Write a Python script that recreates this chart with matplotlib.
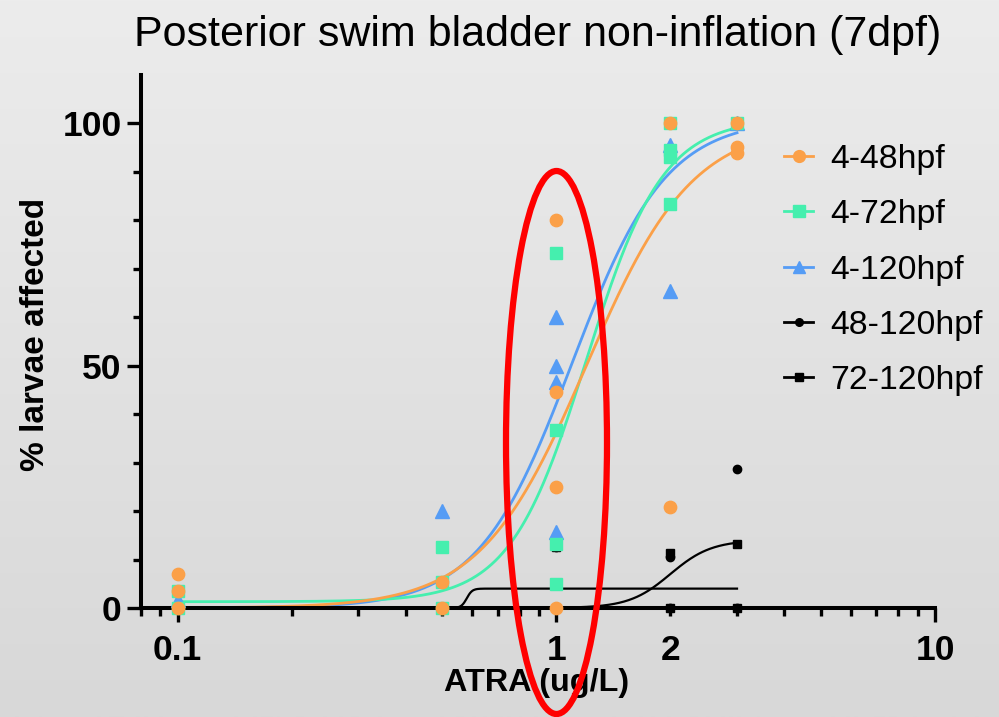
import numpy as np
import matplotlib
matplotlib.use('Agg')
import matplotlib.pyplot as plt
from matplotlib.lines import Line2D
from matplotlib.patches import Ellipse
from matplotlib.ticker import FixedLocator, FixedFormatter, NullFormatter

plt.rcParams['font.family'] = ['Liberation Sans', 'DejaVu Sans']

title = "Posterior swim bladder non-inflation (7dpf)"
xlabel = "ATRA (ug/L)"
ylabel = "% larvae affected"
series_names = ["4-48hpf", "4-72hpf", "4-120hpf", "48-120hpf", "72-120hpf"]

# raw data points
x_4_48 = [0.1, 0.1, 0.1, 0.5, 0.5, 1, 1, 1, 1, 2, 2, 3, 3, 3]
y_4_48 = [7.0, 3.5, 0, 5.3, 0, 80, 44.5, 25, 0, 100, 20.8, 100, 95.1, 93.8]
x_4_72 = [0.1, 0.1, 0.5, 0.5, 0.5, 1, 1, 1, 1, 2, 2, 2, 2, 3]
y_4_72 = [3.5, 0, 12.5, 5.3, 0, 73.3, 36.8, 13.3, 5, 100, 94.5, 93, 83.3, 100]
x_4_120 = [0.1, 0.5, 1, 1, 1, 1, 2, 2, 3]
y_4_120 = [1.7, 20, 60, 50, 46.7, 15.6, 95.5, 65.4, 100]
x_48_120 = [0.1, 0.5, 1, 2, 2, 3, 3]
y_48_120 = [0, 0, 12.5, 10.5, 0, 28.6, 0]
x_72_120 = [0.1, 0.5, 1, 2, 2, 3, 3]
y_72_120 = [0, 0, 12.5, 11.3, 0, 13.2, 0]

# fitted dose-response parameters: (bottom, top, EC50, hill slope)
fit_4_48 = (0.0, 100.0, 1.2, 3.1)
fit_4_72 = (1.3, 101.0, 1.2, 4.3)
fit_4_120 = (0.0, 101.0, 1.1, 3.5)
fit_48_120 = (0.0, 4.0, 0.58, 60.0)
fit_72_120 = (0.0, 14.0, 2.0, 8.0)
fit_range = (0.1, 3.0)

c_orange = '#FBA048'
c_green = '#45EFAE'
c_blue = '#559CF5'


def hill(x, p):
    b, t, ec, h = p
    return b + (t - b) / (1.0 + (ec / x) ** h)


W, H = 999, 717
fig = plt.figure(figsize=(W / 100, H / 100), dpi=100)

# background gradient
bg = fig.add_axes([0, 0, 1, 1], zorder=-10)
grad = np.linspace(236, 216, 256)[:, None] / 255.0
bg.imshow(np.dstack([grad, grad, grad]), aspect='auto', extent=[0, 1, 0, 1])
bg.axis('off')

ax = fig.add_axes([141 / W, 1 - 608 / H, (935 - 141) / W, (608 - 75) / H])
ax.set_facecolor('none')
ax.set_xscale('log')
ax.set_xlim(0.08, 10)
ax.set_ylim(0, 110)

xs = np.logspace(np.log10(fit_range[0]), np.log10(fit_range[1]), 600)
ax.plot(xs, hill(xs, fit_48_120), color='black', lw=1.6, zorder=2)
ax.plot(xs, hill(xs, fit_72_120), color='black', lw=1.6, zorder=2)
ax.plot(xs, hill(xs, fit_4_120), color=c_blue, lw=2.0, zorder=2)
ax.plot(xs, hill(xs, fit_4_72), color=c_green, lw=2.0, zorder=2)
ax.plot(xs, hill(xs, fit_4_48), color=c_orange, lw=2.0, zorder=2)

ms_big = 8.6
ms_small = 6.0
ax.plot(x_48_120, y_48_120, 'o', color='black', ms=ms_small, zorder=3, clip_on=False, ls='none')
ax.plot(x_72_120, y_72_120, 's', color='black', ms=ms_small, zorder=3, clip_on=False, ls='none')
ax.plot(x_4_120, y_4_120, '^', color=c_blue, ms=ms_big + 0.8, zorder=4, clip_on=False, ls='none')
ax.plot(x_4_72, y_4_72, 's', color=c_green, ms=ms_big, zorder=5, clip_on=False, ls='none')
ax.plot(x_4_48, y_4_48, 'o', color=c_orange, ms=ms_big + 0.3, zorder=6, clip_on=False, ls='none')

# axes styling
for s in ['top', 'right']:
    ax.spines[s].set_visible(False)
for s in ['left', 'bottom']:
    ax.spines[s].set_linewidth(2.9)
    ax.spines[s].set_zorder(2.5)

ax.xaxis.set_major_locator(FixedLocator([0.1, 1, 10]))
ax.xaxis.set_major_formatter(FixedFormatter(['0.1', '1', '10']))
minor_x = [0.08, 0.09] + [i / 10 for i in range(2, 10)] + list(range(2, 10))
minor_lab = ['2' if v == 2 else '' for v in minor_x]
ax.xaxis.set_minor_locator(FixedLocator(minor_x))
ax.xaxis.set_minor_formatter(FixedFormatter(minor_lab))
ax.yaxis.set_major_locator(FixedLocator([0, 50, 100]))
ax.yaxis.set_minor_locator(FixedLocator([10, 20, 30, 40, 60, 70, 80, 90]))
ax.yaxis.set_minor_formatter(NullFormatter())

ax.tick_params(which='major', length=10, width=2.4, labelsize=25.5, pad=9)
ax.tick_params(which='minor', length=5.5, width=2.4, labelsize=25.5, pad=13)
ax.tick_params(axis='y', which='major', pad=4)
for lab in ax.get_xticklabels(which='both') + ax.get_yticklabels():
    lab.set_fontweight('bold')

ax.set_xlabel(xlabel, fontsize=23.3, fontweight='bold')
ax.set_ylabel(ylabel, fontsize=24, fontweight='bold')
ax.xaxis.set_label_coords((537 - 141) / (935 - 141), -(683 - 608) / (608 - 75))
ax.xaxis.label.set_va('center')
ax.yaxis.set_label_coords(-(141 - 35) / (935 - 141), (608 - 334) / (608 - 75))
ax.yaxis.label.set_va('center')

fig.text(537.5 / W, 1 - 35 / H, title, fontsize=31, ha='center', va='center')

handles = [
    Line2D([0], [0], color=c_orange, marker='o', ms=8.5, lw=2),
    Line2D([0], [0], color=c_green, marker='s', ms=8, lw=2),
    Line2D([0], [0], color=c_blue, marker='^', ms=8.5, lw=2),
    Line2D([0], [0], color='black', marker='o', ms=5.5, lw=2),
    Line2D([0], [0], color='black', marker='s', ms=5.5, lw=2),
]
leg = fig.legend(handles, series_names, loc='upper left',
                 bbox_to_anchor=(784 / W, 1 - 144 / H), frameon=False,
                 fontsize=24.3, handlelength=0.87, handletextpad=0.5,
                 labelspacing=0.72, borderpad=0, borderaxespad=0)

# highlight ellipse around the 1 ug/L concentration
ell = Ellipse((556.5 / W, 1 - 442.5 / H), 101 / W, 543 / H, transform=fig.transFigure,
              fill=False, ec='#FF0000', lw=4.5, zorder=20)
fig.add_artist(ell)

fig.savefig('out.png', dpi=100)
